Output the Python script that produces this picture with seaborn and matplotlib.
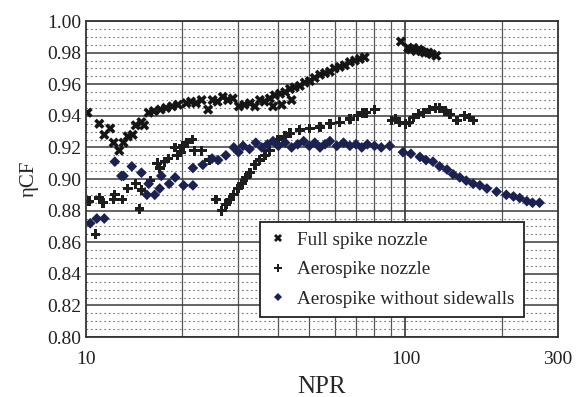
import numpy as np
import pandas as pd
import matplotlib
matplotlib.use("Agg")
import matplotlib.pyplot as plt
import seaborn as sns
from matplotlib.ticker import FixedLocator, NullFormatter, MultipleLocator, FormatStrFormatter

# ---- data (NPR, thrust coefficient efficiency) ----
full_npr = [10.1, 11.0, 11.4, 11.9, 12.2, 12.7, 13.1, 13.5, 14.0, 14.3, 14.9, 15.2,
            15.7, 16.3, 17.1, 17.8, 18.6, 19.4, 20.6, 21.3, 22.1, 23.0, 24.1, 24.9,
            25.8, 26.8, 27.8, 28.8, 30.1, 31.3, 32.6, 33.8, 35.0, 36.2, 37.6, 38.5,
            39.0, 40.5, 41.0, 42.0, 43.5, 44.0, 45.0, 46.7, 48.4, 50.2, 52.0, 54.0,
            56.0, 58.0, 60.0, 62.3, 64.6, 67.0, 69.5, 72.0, 74.5,
            96.8, 102, 104, 106, 108, 110, 112, 115, 118, 121, 125]
full_eta = [0.942, 0.935, 0.928, 0.932, 0.923, 0.918, 0.923, 0.927, 0.928, 0.934, 0.936, 0.934,
            0.942, 0.943, 0.944, 0.945, 0.946, 0.947, 0.948, 0.949, 0.948, 0.950, 0.944, 0.950,
            0.949, 0.952, 0.950, 0.951, 0.946, 0.947, 0.948, 0.946, 0.950, 0.949, 0.951, 0.946,
            0.953, 0.954, 0.947, 0.955, 0.957, 0.950, 0.958, 0.959, 0.961, 0.962, 0.964, 0.966,
            0.967, 0.968, 0.970, 0.971, 0.972, 0.974, 0.975, 0.976, 0.977,
            0.987, 0.983, 0.982, 0.983, 0.981, 0.982, 0.981, 0.980, 0.980, 0.979, 0.978]

aero_npr = [10.2, 10.7, 11.0, 11.3, 12.2, 12.3, 13.0, 13.5, 14.3, 14.7, 14.9, 15.9,
            16.7, 17.0, 17.6, 18.1, 19.0, 19.3, 19.8, 20.1, 20.7, 21.5, 21.8, 23.0, 24.3,
            25.5, 26.6, 27.4, 28.2, 29.0, 29.9, 30.8, 31.7, 32.6, 33.8, 35.0, 36.3,
            37.6, 39.9, 42.0, 43.5, 46.7, 50.2, 54.0, 58.0, 62.3, 67.0, 70.9, 73.6, 75.3,
            80.2, 90.6, 93, 96, 100, 103, 106, 110, 114, 119, 124, 128, 133, 138, 145,
            153, 159, 163]
aero_eta = [0.886, 0.865, 0.888, 0.885, 0.887, 0.890, 0.887, 0.894, 0.897, 0.881, 0.893, 0.899,
            0.910, 0.907, 0.911, 0.913, 0.920, 0.915, 0.917, 0.921, 0.923, 0.925, 0.918, 0.918, 0.912,
            0.887, 0.880, 0.884, 0.887, 0.890, 0.894, 0.897, 0.901, 0.904, 0.909, 0.912, 0.915,
            0.918, 0.925, 0.927, 0.929, 0.931, 0.932, 0.933, 0.935, 0.936, 0.938, 0.940, 0.942, 0.942,
            0.944, 0.937, 0.938, 0.936, 0.935, 0.936, 0.939, 0.941, 0.942, 0.944, 0.945, 0.945, 0.943, 0.941, 0.937,
            0.940, 0.939, 0.937]

side_npr = [10.3, 10.8, 11.4, 12.3, 12.9, 13.1, 13.9, 14.9, 15.5, 15.7, 16.4, 17.0,
            17.2, 18.2, 19.0, 20.2, 21.6, 21.6, 23.2, 24.8, 25.9, 27.4, 29.0, 30.0,
            31, 32.5, 34, 35.5, 37, 38.5, 40, 42, 44, 46, 48, 50, 52, 54, 56, 58,
            61, 64, 67, 70, 73, 76, 80, 84,
            89.3, 98.2, 104, 111, 116, 122, 128, 135, 141, 148, 155, 163, 171, 180,
            193, 207, 218, 228, 240, 250, 263]
side_eta = [0.872, 0.875, 0.875, 0.911, 0.902, 0.902, 0.908, 0.904, 0.890, 0.897, 0.890, 0.894,
            0.902, 0.897, 0.901, 0.896, 0.907, 0.896, 0.909, 0.913, 0.912, 0.915, 0.920, 0.917,
            0.921, 0.919, 0.923, 0.920, 0.922, 0.924, 0.921, 0.923, 0.920, 0.922, 0.924, 0.921,
            0.923, 0.920, 0.922, 0.924, 0.921, 0.923, 0.921, 0.922, 0.920, 0.922, 0.921, 0.920,
            0.921, 0.917, 0.916, 0.914, 0.912, 0.911, 0.908, 0.906, 0.903, 0.901, 0.899, 0.897,
            0.896, 0.894, 0.892, 0.890, 0.889, 0.888, 0.886, 0.885, 0.885]

labels = ["Full spike nozzle", "Aerospike nozzle", "Aerospike without sidewalls"]
y_ticks = [0.80, 0.82, 0.84, 0.86, 0.88, 0.90, 0.92, 0.94, 0.96, 0.98, 1.00]
x_ticks = [10, 100, 300]

df = pd.concat([
    pd.DataFrame({"NPR": full_npr, "eta": full_eta, "series": labels[0]}),
    pd.DataFrame({"NPR": aero_npr, "eta": aero_eta, "series": labels[1]}),
    pd.DataFrame({"NPR": side_npr, "eta": side_eta, "series": labels[2]}),
])

# ---- style ----
sns.set_style("white")
plt.rcParams["font.family"] = ["Liberation Serif", "DejaVu Serif"]

fig = plt.figure(figsize=(5.78, 3.97), dpi=100)
ax = fig.add_axes([0.149, 0.151, 0.816, 0.796])

palette = {labels[0]: "#151515", labels[1]: "#1e1e1e", labels[2]: "#1b2150"}
markers = {labels[0]: "X", labels[1]: "P", labels[2]: "D"}
sizes = {labels[0]: 55, labels[1]: 50, labels[2]: 30}
sns.scatterplot(data=df, x="NPR", y="eta", hue="series", style="series",
                size="series", sizes=sizes,
                palette=palette, markers=markers, linewidth=0,
                edgecolor="none", ax=ax, legend=True)

ax.set_xscale("log")
ax.set_xlim(10, 300)
ax.set_ylim(0.80, 1.00)

# grid: solid major y, dotted minor y, vertical log lines
ax.yaxis.set_major_locator(FixedLocator(y_ticks))
ax.yaxis.set_major_formatter(FormatStrFormatter("%.2f"))
ax.yaxis.set_minor_locator(MultipleLocator(0.005))
ax.grid(which="major", axis="y", color="#3a3a3a", lw=1.1)
ax.grid(which="minor", axis="y", color="#777777", lw=0.8, ls=(0, (1.5, 2.5)))
ax.xaxis.set_major_locator(FixedLocator(x_ticks))
ax.xaxis.set_major_formatter(FormatStrFormatter("%d"))
ax.xaxis.set_minor_locator(FixedLocator([20, 30, 40, 50, 60, 70, 80, 90, 200]))
ax.xaxis.set_minor_formatter(NullFormatter())
ax.grid(which="minor", axis="x", color="#555555", lw=0.9)
ax.axvline(100, color="#333333", lw=1.2, zorder=0.5)
ax.set_axisbelow(True)

ax.tick_params(which="both", length=0, labelsize=14, colors="#222222")
ax.tick_params(axis="x", pad=10)

for sp in ax.spines.values():
    sp.set_color("#333333")
    sp.set_linewidth(1.3)

ax.set_xlabel("NPR", fontsize=18, labelpad=6)
ax.set_ylabel("ηCF", fontsize=15, labelpad=6)

leg = ax.legend(loc="upper left", bbox_to_anchor=(0.369, 0.364), borderaxespad=0,
                fontsize=13.8, frameon=True, fancybox=False, handletextpad=0.5,
                borderpad=0.5, labelspacing=0.62, markerscale=0.8, handlelength=0.9)
leg.get_frame().set_edgecolor("#222222")
leg.get_frame().set_linewidth(1.3)
leg.get_frame().set_alpha(1)

plt.savefig("out.png", dpi=100)
